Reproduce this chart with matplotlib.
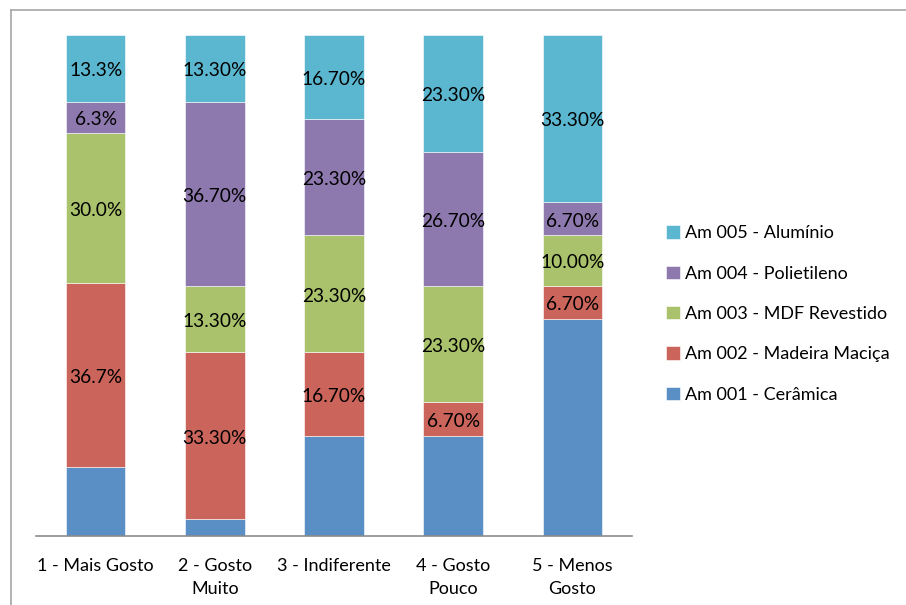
import matplotlib
matplotlib.use("Agg")
import matplotlib.pyplot as plt
from matplotlib.lines import Line2D
import numpy as np

plt.rcParams['font.family'] = ['Lato', 'DejaVu Sans']

# categorias e series (percentuais)
categorias = ["1 - Mais Gosto", "2 - Gosto\nMuito", "3 - Indiferente", "4 - Gosto\nPouco", "5 - Menos\nGosto"]
series = ["Am 001 - Cerâmica", "Am 002 - Madeira Maciça", "Am 003 - MDF Revestido",
          "Am 004 - Polietileno", "Am 005 - Alumínio"]

ceramica = [13.7, 3.4, 20.0, 20.0, 43.3]
madeira = [36.7, 33.3, 16.7, 6.7, 6.7]
mdf = [30.0, 13.3, 23.3, 23.3, 10.0]
polietileno = [6.3, 36.7, 23.3, 26.7, 6.7]
aluminio = [13.3, 13.3, 16.7, 23.3, 33.3]

# rotulos como aparecem no grafico (Cerâmica sem rotulo)
rot_madeira = ["36.7%", "33.30%", "16.70%", "6.70%", "6.70%"]
rot_mdf = ["30.0%", "13.30%", "23.30%", "23.30%", "10.00%"]
rot_polietileno = ["6.3%", "36.70%", "23.30%", "26.70%", "6.70%"]
rot_aluminio = ["13.3%", "13.30%", "16.70%", "23.30%", "33.30%"]

cores = ["#5A8FC6", "#CB655B", "#A9C26B", "#8E79AF", "#5AB7CF"]

valores = [ceramica, madeira, mdf, polietileno, aluminio]
rotulos = [None, rot_madeira, rot_mdf, rot_polietileno, rot_aluminio]

fig = plt.figure(figsize=(9.06, 6.05), dpi=100)
ax = fig.add_axes([36/906, (605-536)/605, (632-36)/906, (536-35)/605])

x = np.arange(len(categorias))
base = np.zeros(len(categorias))
for nome, vals, rots, cor in zip(series, valores, rotulos, cores):
    vals = np.array(vals)
    ax.bar(x, vals, width=0.5, bottom=base, color=cor, edgecolor="white",
           linewidth=0.4, label=nome)
    if rots is not None:
        for xi, b, v, r in zip(x, base, vals, rots):
            ax.text(xi, b + v/2 - 0.5, r, ha="center", va="center", fontsize=13.8, color="black")
    base = base + vals

ax.set_xlim(-0.5, 4.5)
ax.set_ylim(0, 100)
ax.set_yticks([])
ax.set_xticks(x)
ax.set_xticklabels(categorias, fontsize=13, linespacing=1.5)
ax.tick_params(axis="x", length=0, pad=16)
for s in ["top", "right", "left"]:
    ax.spines[s].set_visible(False)
ax.spines["bottom"].set_color("#8C8C8C")
ax.spines["bottom"].set_linewidth(1.2)

handles, labels = ax.get_legend_handles_labels()
leg = fig.legend(handles[::-1], labels[::-1], loc="center left",
                 bbox_to_anchor=(650/906, 1 - 314/605), frameon=False,
                 fontsize=13, handlelength=0.75, handleheight=0.75,
                 handletextpad=0.3, labelspacing=1.35)

# moldura do grafico (so topo e esquerda aparecem)
fig.add_artist(Line2D([11/906, 1], [1 - 10/605, 1 - 10/605], color="#A6A6A6", linewidth=1.2))
fig.add_artist(Line2D([11/906, 11/906], [0, 1 - 10/605], color="#A6A6A6", linewidth=1.2))

fig.savefig("out.png", dpi=100)
